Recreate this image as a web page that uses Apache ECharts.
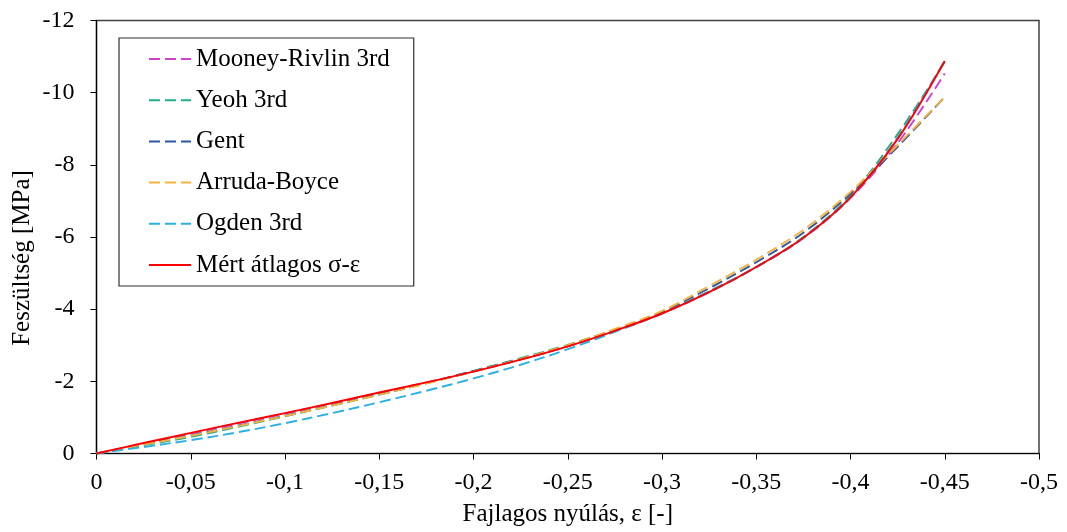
<!DOCTYPE html>
<html>
<head>
<meta charset="utf-8">
<script src="https://cdn.jsdelivr.net/npm/echarts@6/dist/echarts.min.js"></script>
<style>
  html, body { margin: 0; padding: 0; background: #fff; }
  #chart { width: 1067px; height: 532px; }
</style>
</head>
<body>
<div id="chart"></div>
<script>
// Compression test: fitted hyperelastic models vs. measured mean curve
const strain = [0, -0.025, -0.05, -0.075, -0.1, -0.125, -0.15, -0.175, -0.2, -0.225,
                -0.25, -0.275, -0.3, -0.325, -0.35, -0.375, -0.4, -0.425, -0.45];

const mooneyRivlin = [0, -0.27, -0.55, -0.83, -1.11, -1.39, -1.68, -1.97, -2.27, -2.60,
                      -2.97, -3.40, -3.88, -4.47, -5.16, -5.97, -7.08, -8.60, -10.53];
const yeoh = [0, -0.23, -0.46, -0.74, -1.03, -1.33, -1.63, -1.95, -2.29, -2.64,
              -3.01, -3.43, -3.90, -4.48, -5.17, -6.00, -7.15, -8.85, -10.85];
const gent = [0, -0.26, -0.50, -0.77, -1.05, -1.34, -1.64, -1.95, -2.28, -2.62,
              -2.99, -3.42, -3.92, -4.58, -5.30, -6.12, -7.20, -8.50, -9.88];
const arrudaBoyce = [0, -0.25, -0.49, -0.76, -1.04, -1.33, -1.63, -1.94, -2.27, -2.62,
                     -3.00, -3.45, -3.95, -4.64, -5.37, -6.20, -7.25, -8.55, -9.88];
const ogden = [0, -0.18, -0.37, -0.59, -0.84, -1.12, -1.42, -1.74, -2.08, -2.46,
               -2.89, -3.37, -3.88, -4.50, -5.17, -5.98, -7.10, -8.75, -10.90];
const measured = [0, -0.29, -0.57, -0.85, -1.12, -1.40, -1.69, -1.97, -2.27, -2.60,
                  -2.97, -3.40, -3.88, -4.47, -5.17, -5.98, -7.10, -8.72, -10.88];

const seriesNames = ['Mooney-Rivlin 3rd', 'Yeoh 3rd', 'Gent', 'Arruda-Boyce', 'Ogden 3rd', 'Mért átlagos σ-ε'];
const seriesColors = ['#d03fd0', '#1fae86', '#2a58a4', '#f7b23b', '#2bb0e4', '#ff0000'];
const seriesValues = [mooneyRivlin, yeoh, gent, arrudaBoyce, ogden, measured];

const xAxisTitle = 'Fajlagos nyúlás, ε [-]';
const yAxisTitle = 'Feszültség [MPa]';

const FONT = '"Liberation Serif", "Times New Roman", serif';

function commaDecimal(v) {
  return String(parseFloat(Number(v).toFixed(3))).replace('.', ',');
}

const series = seriesValues.map((vals, i) => {
  const solid = i === seriesValues.length - 1;
  return {
    name: seriesNames[i],
    type: 'line',
    smooth: 0.35,
    symbol: 'none',
    showSymbol: false,
    color: seriesColors[i],
    lineStyle: {
      color: seriesColors[i],
      width: 1.9,
      type: solid ? 'solid' : [11, 5]
    },
    data: strain.map((x, k) => [x, vals[k]]),
    z: 2 + i
  };
});

const chart = echarts.init(document.getElementById('chart'), null, { renderer: 'canvas' });
chart.setOption({
  animation: false,
  backgroundColor: '#ffffff',
  textStyle: { fontFamily: FONT },
  grid: {
    left: 96.5, right: 28, top: 20.5, bottom: 78.5,
    show: true, borderColor: '#404040', borderWidth: 1.5, backgroundColor: 'transparent'
  },
  legend: {
    orient: 'vertical',
    left: 119, top: 38,
    padding: [8.5, 24, 8.5, 29],
    itemGap: 16.2,
    itemWidth: 42,
    itemHeight: 14,
    itemStyle: { opacity: 0 },
    borderColor: '#303030',
    borderWidth: 1.2,
    backgroundColor: '#ffffff',
    textStyle: { fontFamily: FONT, fontSize: 25, color: '#000', lineHeight: 25 },
    data: seriesNames
  },
  graphic: [{
    type: 'text',
    x: 22.5, y: 258,
    rotation: Math.PI / 2,
    style: {
      text: yAxisTitle,
      fontFamily: FONT, fontSize: 25, fill: '#000',
      align: 'center', verticalAlign: 'middle'
    }
  }],
  xAxis: {
    type: 'value',
    min: -0.5, max: 0, interval: 0.05,
    inverse: true,
    name: xAxisTitle,
    nameLocation: 'middle',
    nameGap: 48,
    nameTextStyle: { fontFamily: FONT, fontSize: 25, color: '#000' },
    axisLine: { onZero: false, lineStyle: { color: '#000', width: 1.2 } },
    axisTick: { show: true, inside: false, length: 6, lineStyle: { color: '#000' } },
    axisLabel: { formatter: commaDecimal, fontFamily: FONT, fontSize: 24, color: '#000', margin: 17 },
    splitLine: { show: false }
  },
  yAxis: {
    type: 'value',
    min: -12, max: 0, interval: 2,
    inverse: true,
    axisLine: { onZero: false, lineStyle: { color: '#000', width: 1.2 } },
    axisTick: { show: true, inside: false, length: 6, lineStyle: { color: '#000' } },
    axisLabel: { formatter: commaDecimal, fontFamily: FONT, fontSize: 24, color: '#000', margin: 22 },
    splitLine: { show: false }
  },
  series: series
});
</script>
</body>
</html>
